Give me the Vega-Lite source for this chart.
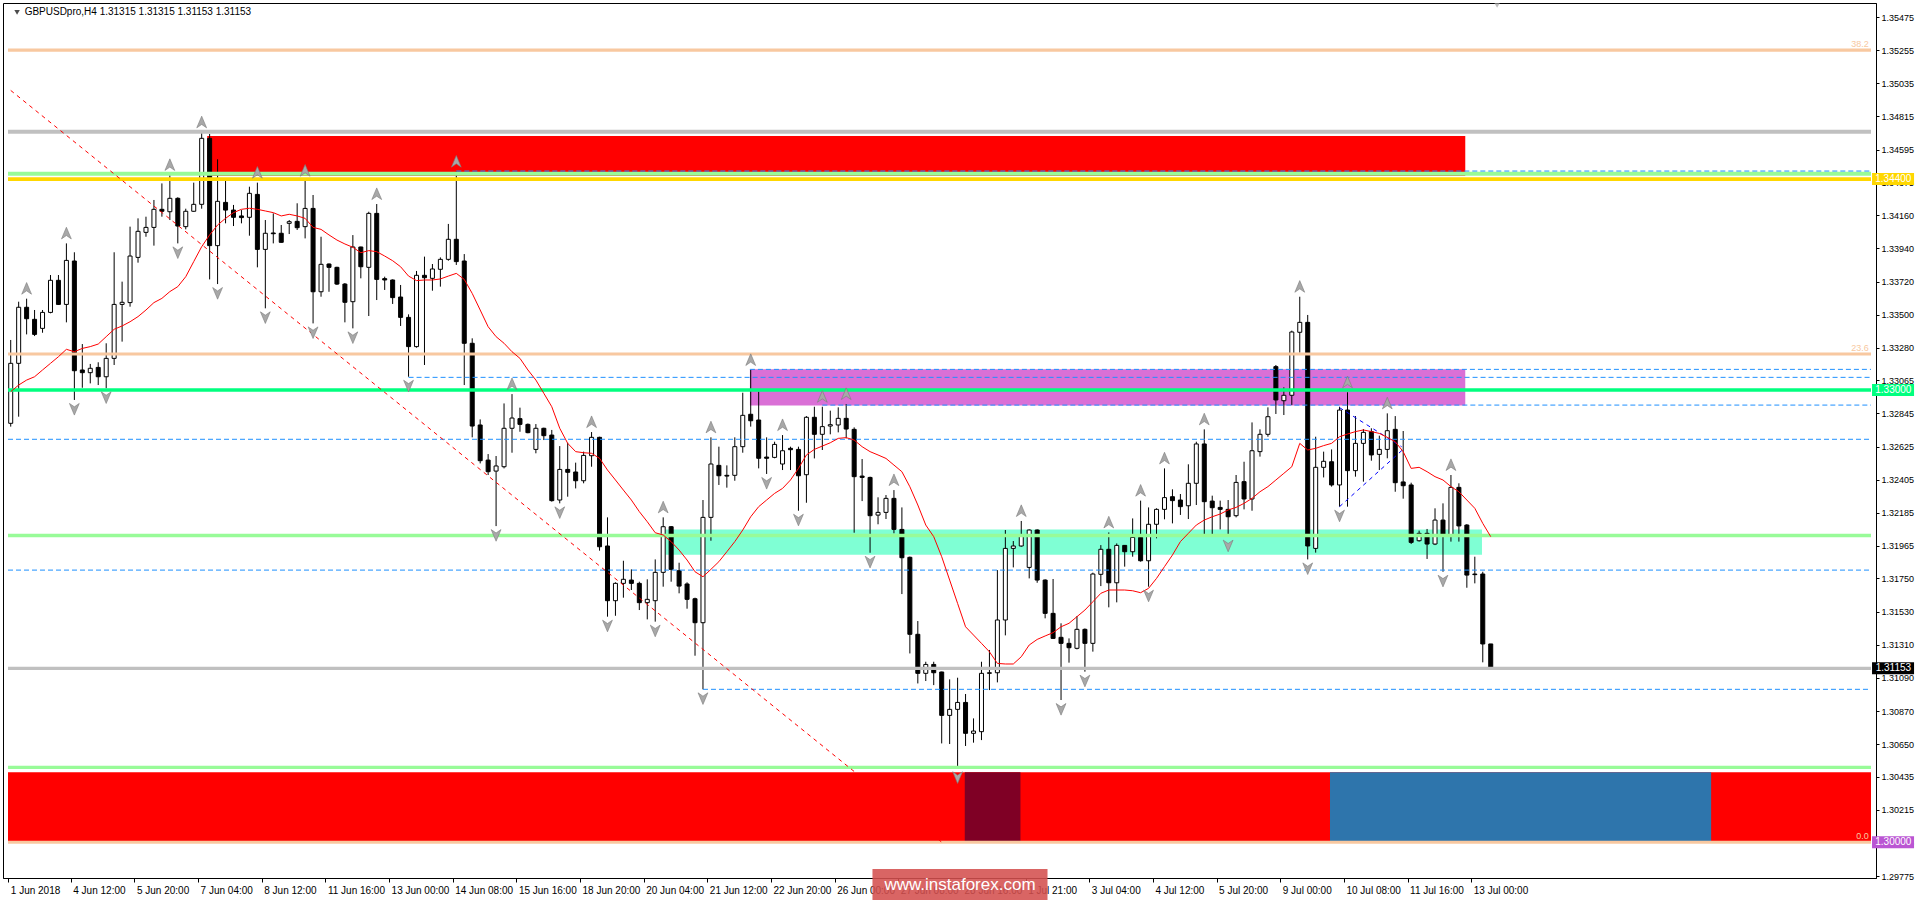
{
"$schema":"https://vega.github.io/schema/vega-lite/v6.json",
"width":1873,"height":875,
"autosize":{"type":"none"},
"padding":{"left":3,"top":3,"right":44,"bottom":24},
"background":"white",
"config":{"view":{"stroke":"#000000","strokeWidth":1},"axis":{"title":null,"grid":false,"labelOverlap":false}},
"resolve":{"scale":{"color":"independent","strokeWidth":"independent","fill":"independent","stroke":"independent"}},
"datasets":{
"c":[
{"i":0,"o":1.32779,"h":1.33332,"l":1.32757,"c":1.33177,"m":1.32989},
{"i":1,"o":1.33177,"h":1.33586,"l":1.32823,"c":1.33549,"m":1.33033},
{"i":2,"o":1.33549,"h":1.33606,"l":1.33369,"c":1.33473,"m":1.33066,"f":"u"},
{"i":3,"o":1.33469,"h":1.33531,"l":1.33358,"c":1.33369,"m":1.33088},
{"i":4,"o":1.33409,"h":1.33531,"l":1.33380,"c":1.33515,"m":1.33133},
{"i":5,"o":1.33515,"h":1.33763,"l":1.33509,"c":1.33728,"m":1.33177},
{"i":6,"o":1.33728,"h":1.33763,"l":1.33564,"c":1.33568,"m":1.33221},
{"i":7,"o":1.33568,"h":1.33973,"l":1.33449,"c":1.33860,"m":1.33270,"f":"u"},
{"i":8,"o":1.33856,"h":1.33914,"l":1.32934,"c":1.33128,"m":1.33254,"f":"d"},
{"i":9,"o":1.33133,"h":1.33305,"l":1.33015,"c":1.33115,"m":1.33276},
{"i":10,"o":1.33115,"h":1.33173,"l":1.33044,"c":1.33144,"m":1.33288},
{"i":11,"o":1.33150,"h":1.33184,"l":1.33033,"c":1.33088,"m":1.33305},
{"i":12,"o":1.33088,"h":1.33310,"l":1.33011,"c":1.33210,"m":1.33354,"f":"d"},
{"i":13,"o":1.33210,"h":1.33914,"l":1.33166,"c":1.33568,"m":1.33403},
{"i":14,"o":1.33568,"h":1.33719,"l":1.33321,"c":1.33582,"m":1.33425},
{"i":15,"o":1.33580,"h":1.34084,"l":1.33553,"c":1.33889,"m":1.33453},
{"i":16,"o":1.33880,"h":1.34139,"l":1.33845,"c":1.34053,"m":1.33487},
{"i":17,"o":1.34046,"h":1.34150,"l":1.34017,"c":1.34079,"m":1.33531},
{"i":18,"o":1.34079,"h":1.34261,"l":1.33958,"c":1.34199,"m":1.33580},
{"i":19,"o":1.34199,"h":1.34371,"l":1.34150,"c":1.34186,"m":1.33608},
{"i":20,"o":1.34183,"h":1.34427,"l":1.34128,"c":1.34272,"m":1.33653,"f":"u"},
{"i":21,"o":1.34272,"h":1.34279,"l":1.33973,"c":1.34088,"m":1.33686,"f":"d"},
{"i":22,"o":1.34084,"h":1.34203,"l":1.34066,"c":1.34186,"m":1.33752},
{"i":23,"o":1.34186,"h":1.34376,"l":1.34183,"c":1.34232,"m":1.33852},
{"i":24,"o":1.34232,"h":1.34710,"l":1.34203,"c":1.34670,"m":1.33951,"f":"u"},
{"i":25,"o":1.34670,"h":1.34699,"l":1.33734,"c":1.33958,"m":1.34029},
{"i":26,"o":1.33958,"h":1.34531,"l":1.33703,"c":1.34252,"m":1.34095,"f":"d"},
{"i":27,"o":1.34245,"h":1.34394,"l":1.34106,"c":1.34194,"m":1.34139},
{"i":28,"o":1.34194,"h":1.34228,"l":1.34088,"c":1.34146,"m":1.34177},
{"i":29,"o":1.34155,"h":1.34194,"l":1.34106,"c":1.34144,"m":1.34199},
{"i":30,"o":1.34146,"h":1.34349,"l":1.34024,"c":1.34305,"m":1.34206},
{"i":31,"o":1.34298,"h":1.34376,"l":1.33814,"c":1.33933,"m":1.34199,"f":"u"},
{"i":32,"o":1.33933,"h":1.34128,"l":1.33542,"c":1.34040,"m":1.34188,"f":"d"},
{"i":33,"o":1.34042,"h":1.34172,"l":1.33973,"c":1.34037,"m":1.34177},
{"i":34,"o":1.34040,"h":1.34095,"l":1.33978,"c":1.33980,"m":1.34155},
{"i":35,"o":1.34106,"h":1.34128,"l":1.34035,"c":1.34117,"m":1.34166},
{"i":36,"o":1.34119,"h":1.34239,"l":1.34062,"c":1.34077,"m":1.34155},
{"i":37,"o":1.34084,"h":1.34389,"l":1.34006,"c":1.34205,"m":1.34139,"f":"u"},
{"i":38,"o":1.34205,"h":1.34294,"l":1.33442,"c":1.33652,"m":1.34079,"f":"d"},
{"i":39,"o":1.33652,"h":1.34017,"l":1.33619,"c":1.33834,"m":1.34066},
{"i":40,"o":1.33836,"h":1.33840,"l":1.33652,"c":1.33814,"m":1.34029},
{"i":41,"o":1.33814,"h":1.33818,"l":1.33697,"c":1.33703,"m":1.33995},
{"i":42,"o":1.33703,"h":1.33710,"l":1.33449,"c":1.33582,"m":1.33969},
{"i":43,"o":1.33586,"h":1.34028,"l":1.33409,"c":1.33949,"m":1.33947,"f":"d"},
{"i":44,"o":1.33949,"h":1.33951,"l":1.33741,"c":1.33818,"m":1.33911},
{"i":45,"o":1.33814,"h":1.34183,"l":1.33491,"c":1.34172,"m":1.33925},
{"i":46,"o":1.34172,"h":1.34234,"l":1.33597,"c":1.33734,"m":1.33918,"f":"u"},
{"i":47,"o":1.33739,"h":1.33752,"l":1.33664,"c":1.33730,"m":1.33889},
{"i":48,"o":1.33730,"h":1.33734,"l":1.33571,"c":1.33613,"m":1.33858},
{"i":49,"o":1.33617,"h":1.33697,"l":1.33425,"c":1.33482,"m":1.33818},
{"i":50,"o":1.33482,"h":1.33502,"l":1.33088,"c":1.33288,"m":1.33756,"f":"d"},
{"i":51,"o":1.33288,"h":1.33790,"l":1.33281,"c":1.33761,"m":1.33726},
{"i":52,"o":1.33761,"h":1.33885,"l":1.33166,"c":1.33745,"m":1.33730},
{"i":53,"o":1.33741,"h":1.33836,"l":1.33659,"c":1.33803,"m":1.33730},
{"i":54,"o":1.33801,"h":1.33880,"l":1.33686,"c":1.33867,"m":1.33737},
{"i":55,"o":1.33867,"h":1.34102,"l":1.33858,"c":1.34000,"m":1.33756},
{"i":56,"o":1.34000,"h":1.34449,"l":1.33830,"c":1.33852,"m":1.33774,"f":"u"},
{"i":57,"o":1.33856,"h":1.33902,"l":1.33033,"c":1.33310,"m":1.33734},
{"i":58,"o":1.33310,"h":1.33343,"l":1.32686,"c":1.32761,"m":1.33641},
{"i":59,"o":1.32768,"h":1.32805,"l":1.32513,"c":1.32531,"m":1.33531},
{"i":60,"o":1.32535,"h":1.32575,"l":1.32436,"c":1.32458,"m":1.33420},
{"i":61,"o":1.32462,"h":1.32562,"l":1.32097,"c":1.32496,"m":1.33354,"f":"d"},
{"i":62,"o":1.32491,"h":1.32911,"l":1.32480,"c":1.32746,"m":1.33310},
{"i":63,"o":1.32746,"h":1.32973,"l":1.32584,"c":1.32814,"m":1.33254,"f":"u"},
{"i":64,"o":1.32810,"h":1.32883,"l":1.32723,"c":1.32772,"m":1.33210},
{"i":65,"o":1.32772,"h":1.32778,"l":1.32713,"c":1.32717,"m":1.33133},
{"i":66,"o":1.32606,"h":1.32774,"l":1.32580,"c":1.32746,"m":1.33066},
{"i":67,"o":1.32746,"h":1.32750,"l":1.32668,"c":1.32697,"m":1.32978},
{"i":68,"o":1.32701,"h":1.32735,"l":1.32259,"c":1.32266,"m":1.32889},
{"i":69,"o":1.32270,"h":1.32628,"l":1.32248,"c":1.32473,"m":1.32746,"f":"d"},
{"i":70,"o":1.32473,"h":1.32650,"l":1.32292,"c":1.32454,"m":1.32646},
{"i":71,"o":1.32456,"h":1.32518,"l":1.32347,"c":1.32398,"m":1.32591},
{"i":72,"o":1.32398,"h":1.32591,"l":1.32381,"c":1.32566,"m":1.32584},
{"i":73,"o":1.32564,"h":1.32721,"l":1.32491,"c":1.32686,"m":1.32580,"f":"u"},
{"i":74,"o":1.32686,"h":1.32690,"l":1.31934,"c":1.31960,"m":1.32547},
{"i":75,"o":1.31965,"h":1.32155,"l":1.31496,"c":1.31602,"m":1.32469,"f":"d"},
{"i":76,"o":1.31602,"h":1.31724,"l":1.31502,"c":1.31717,"m":1.32403},
{"i":77,"o":1.31717,"h":1.31867,"l":1.31622,"c":1.31744,"m":1.32336},
{"i":78,"o":1.31739,"h":1.31810,"l":1.31673,"c":1.31717,"m":1.32270},
{"i":79,"o":1.31717,"h":1.31728,"l":1.31540,"c":1.31589,"m":1.32193},
{"i":80,"o":1.31589,"h":1.31744,"l":1.31478,"c":1.31611,"m":1.32126},
{"i":81,"o":1.31602,"h":1.31876,"l":1.31463,"c":1.31790,"m":1.32053,"f":"d"},
{"i":82,"o":1.31790,"h":1.32155,"l":1.31695,"c":1.32093,"m":1.32038,"f":"u"},
{"i":83,"o":1.32093,"h":1.32097,"l":1.31728,"c":1.31810,"m":1.31994},
{"i":84,"o":1.31801,"h":1.31854,"l":1.31651,"c":1.31699,"m":1.31938},
{"i":85,"o":1.31713,"h":1.31724,"l":1.31549,"c":1.31611,"m":1.31872},
{"i":86,"o":1.31615,"h":1.31622,"l":1.31237,"c":1.31456,"m":1.31794},
{"i":87,"o":1.31456,"h":1.32270,"l":1.31014,"c":1.32155,"m":1.31761,"f":"d"},
{"i":88,"o":1.32155,"h":1.32686,"l":1.32000,"c":1.32509,"m":1.31810,"f":"u"},
{"i":89,"o":1.32500,"h":1.32624,"l":1.32370,"c":1.32431,"m":1.31861},
{"i":90,"o":1.32434,"h":1.32500,"l":1.32352,"c":1.32429,"m":1.31927},
{"i":91,"o":1.32434,"h":1.32686,"l":1.32398,"c":1.32624,"m":1.31994},
{"i":92,"o":1.32624,"h":1.32982,"l":1.32584,"c":1.32832,"m":1.32071},
{"i":93,"o":1.32839,"h":1.33133,"l":1.32757,"c":1.32796,"m":1.32159,"f":"u"},
{"i":94,"o":1.32801,"h":1.32989,"l":1.32480,"c":1.32547,"m":1.32226},
{"i":95,"o":1.32555,"h":1.32686,"l":1.32443,"c":1.32547,"m":1.32270,"f":"d"},
{"i":96,"o":1.32553,"h":1.32657,"l":1.32547,"c":1.32639,"m":1.32314},
{"i":97,"o":1.32509,"h":1.32701,"l":1.32469,"c":1.32597,"m":1.32347,"f":"u"},
{"i":98,"o":1.32613,"h":1.32624,"l":1.32469,"c":1.32604,"m":1.32403},
{"i":99,"o":1.32606,"h":1.32624,"l":1.32199,"c":1.32431,"m":1.32480,"f":"d"},
{"i":100,"o":1.32438,"h":1.32827,"l":1.32252,"c":1.32819,"m":1.32569},
{"i":101,"o":1.32819,"h":1.32889,"l":1.32546,"c":1.32706,"m":1.32606},
{"i":102,"o":1.32706,"h":1.32889,"l":1.32602,"c":1.32757,"m":1.32628,"f":"u"},
{"i":103,"o":1.32761,"h":1.32863,"l":1.32706,"c":1.32770,"m":1.32650},
{"i":104,"o":1.32768,"h":1.32885,"l":1.32719,"c":1.32812,"m":1.32679},
{"i":105,"o":1.32812,"h":1.32907,"l":1.32679,"c":1.32741,"m":1.32684,"f":"u"},
{"i":106,"o":1.32739,"h":1.32752,"l":1.32053,"c":1.32425,"m":1.32668},
{"i":107,"o":1.32429,"h":1.32542,"l":1.32263,"c":1.32420,"m":1.32624},
{"i":108,"o":1.32420,"h":1.32425,"l":1.31920,"c":1.32166,"m":1.32591,"f":"d"},
{"i":109,"o":1.32170,"h":1.32288,"l":1.32109,"c":1.32188,"m":1.32569},
{"i":110,"o":1.32188,"h":1.32303,"l":1.32144,"c":1.32281,"m":1.32546},
{"i":111,"o":1.32281,"h":1.32336,"l":1.32049,"c":1.32075,"m":1.32502,"f":"u"},
{"i":112,"o":1.32075,"h":1.32221,"l":1.31646,"c":1.31887,"m":1.32458},
{"i":113,"o":1.31890,"h":1.31895,"l":1.31252,"c":1.31379,"m":1.32358},
{"i":114,"o":1.31379,"h":1.31467,"l":1.31053,"c":1.31120,"m":1.32237},
{"i":115,"o":1.31120,"h":1.31197,"l":1.31069,"c":1.31179,"m":1.32104},
{"i":116,"o":1.31179,"h":1.31197,"l":1.31042,"c":1.31124,"m":1.32027},
{"i":117,"o":1.31129,"h":1.31131,"l":1.30655,"c":1.30841,"m":1.31894},
{"i":118,"o":1.30841,"h":1.31080,"l":1.30651,"c":1.30881,"m":1.31739},
{"i":119,"o":1.30881,"h":1.31091,"l":1.30490,"c":1.30927,"m":1.31584,"f":"d"},
{"i":120,"o":1.30927,"h":1.30983,"l":1.30638,"c":1.30722,"m":1.31429},
{"i":121,"o":1.30722,"h":1.30821,"l":1.30660,"c":1.30737,"m":1.31374},
{"i":122,"o":1.30733,"h":1.31197,"l":1.30677,"c":1.31120,"m":1.31319},
{"i":123,"o":1.31120,"h":1.31275,"l":1.31009,"c":1.31124,"m":1.31263},
{"i":124,"o":1.31124,"h":1.31805,"l":1.31060,"c":1.31474,"m":1.31186},
{"i":125,"o":1.31474,"h":1.32071,"l":1.31372,"c":1.31949,"m":1.31182},
{"i":126,"o":1.31949,"h":1.31998,"l":1.31823,"c":1.31965,"m":1.31182},
{"i":127,"o":1.31965,"h":1.32131,"l":1.31960,"c":1.32038,"m":1.31230,"f":"u"},
{"i":128,"o":1.31823,"h":1.32075,"l":1.31750,"c":1.32071,"m":1.31308},
{"i":129,"o":1.32071,"h":1.32075,"l":1.31721,"c":1.31739,"m":1.31345},
{"i":130,"o":1.31739,"h":1.31744,"l":1.31485,"c":1.31518,"m":1.31368},
{"i":131,"o":1.31518,"h":1.31746,"l":1.31348,"c":1.31352,"m":1.31390},
{"i":132,"o":1.31359,"h":1.31452,"l":1.30943,"c":1.31319,"m":1.31429,"f":"d"},
{"i":133,"o":1.31319,"h":1.31352,"l":1.31191,"c":1.31290,"m":1.31452},
{"i":134,"o":1.31286,"h":1.31500,"l":1.31279,"c":1.31412,"m":1.31496},
{"i":135,"o":1.31412,"h":1.31418,"l":1.31131,"c":1.31319,"m":1.31540,"f":"d"},
{"i":136,"o":1.31319,"h":1.31788,"l":1.31264,"c":1.31779,"m":1.31595},
{"i":137,"o":1.31777,"h":1.31971,"l":1.31699,"c":1.31943,"m":1.31651},
{"i":138,"o":1.31943,"h":1.32055,"l":1.31558,"c":1.31721,"m":1.31673,"f":"u"},
{"i":139,"o":1.31721,"h":1.31982,"l":1.31591,"c":1.31969,"m":1.31673},
{"i":140,"o":1.31969,"h":1.31971,"l":1.31828,"c":1.31927,"m":1.31673},
{"i":141,"o":1.31927,"h":1.32148,"l":1.31894,"c":1.32022,"m":1.31668},
{"i":142,"o":1.32022,"h":1.32266,"l":1.31861,"c":1.31867,"m":1.31655,"f":"u"},
{"i":143,"o":1.31867,"h":1.32221,"l":1.31695,"c":1.32109,"m":1.31684,"f":"d"},
{"i":144,"o":1.32109,"h":1.32215,"l":1.32016,"c":1.32208,"m":1.31750},
{"i":145,"o":1.32208,"h":1.32480,"l":1.32142,"c":1.32286,"m":1.31828,"f":"u"},
{"i":146,"o":1.32292,"h":1.32341,"l":1.32115,"c":1.32266,"m":1.31905},
{"i":147,"o":1.32270,"h":1.32310,"l":1.32171,"c":1.32226,"m":1.31994},
{"i":148,"o":1.32232,"h":1.32507,"l":1.32144,"c":1.32381,"m":1.32049},
{"i":149,"o":1.32381,"h":1.32657,"l":1.32237,"c":1.32642,"m":1.32104},
{"i":150,"o":1.32642,"h":1.32739,"l":1.32031,"c":1.32259,"m":1.32137,"f":"u"},
{"i":151,"o":1.32263,"h":1.32299,"l":1.32031,"c":1.32219,"m":1.32159},
{"i":152,"o":1.32221,"h":1.32266,"l":1.32075,"c":1.32208,"m":1.32177},
{"i":153,"o":1.32208,"h":1.32270,"l":1.32027,"c":1.32159,"m":1.32204,"f":"d"},
{"i":154,"o":1.32166,"h":1.32436,"l":1.32155,"c":1.32387,"m":1.32221},
{"i":155,"o":1.32392,"h":1.32524,"l":1.32208,"c":1.32277,"m":1.32248},
{"i":156,"o":1.32277,"h":1.32785,"l":1.32199,"c":1.32597,"m":1.32281},
{"i":157,"o":1.32591,"h":1.32739,"l":1.32558,"c":1.32706,"m":1.32325},
{"i":158,"o":1.32706,"h":1.32885,"l":1.32690,"c":1.32823,"m":1.32359},
{"i":159,"o":1.33155,"h":1.33166,"l":1.32841,"c":1.32934,"m":1.32403},
{"i":160,"o":1.32929,"h":1.33018,"l":1.32834,"c":1.32965,"m":1.32447},
{"i":161,"o":1.32965,"h":1.33394,"l":1.32900,"c":1.33385,"m":1.32491},
{"i":162,"o":1.33383,"h":1.33619,"l":1.33248,"c":1.33449,"m":1.32646,"f":"u"},
{"i":163,"o":1.33449,"h":1.33498,"l":1.31876,"c":1.31965,"m":1.32602,"f":"d"},
{"i":164,"o":1.31949,"h":1.32690,"l":1.31921,"c":1.32487,"m":1.32613},
{"i":165,"o":1.32487,"h":1.32591,"l":1.32420,"c":1.32527,"m":1.32631},
{"i":166,"o":1.32524,"h":1.32606,"l":1.32359,"c":1.32370,"m":1.32646},
{"i":167,"o":1.32370,"h":1.32889,"l":1.32226,"c":1.32867,"m":1.32690,"f":"d"},
{"i":168,"o":1.32867,"h":1.32985,"l":1.32226,"c":1.32465,"m":1.32708,"f":"u"},
{"i":169,"o":1.32465,"h":1.32827,"l":1.32425,"c":1.32646,"m":1.32724},
{"i":170,"o":1.32646,"h":1.32741,"l":1.32392,"c":1.32719,"m":1.32735},
{"i":171,"o":1.32724,"h":1.32746,"l":1.32531,"c":1.32569,"m":1.32724},
{"i":172,"o":1.32573,"h":1.32697,"l":1.32469,"c":1.32606,"m":1.32712},
{"i":173,"o":1.32606,"h":1.32845,"l":1.32547,"c":1.32730,"m":1.32686,"f":"u"},
{"i":174,"o":1.32739,"h":1.32827,"l":1.32325,"c":1.32385,"m":1.32657},
{"i":175,"o":1.32390,"h":1.32728,"l":1.32279,"c":1.32365,"m":1.32591},
{"i":176,"o":1.32370,"h":1.32385,"l":1.31978,"c":1.31989,"m":1.32480},
{"i":177,"o":1.32000,"h":1.32067,"l":1.31994,"c":1.32049,"m":1.32487},
{"i":178,"o":1.32049,"h":1.32078,"l":1.31879,"c":1.31978,"m":1.32458},
{"i":179,"o":1.31978,"h":1.32215,"l":1.31971,"c":1.32137,"m":1.32425},
{"i":180,"o":1.32137,"h":1.32248,"l":1.31794,"c":1.32033,"m":1.32403,"f":"d"},
{"i":181,"o":1.32033,"h":1.32436,"l":1.31994,"c":1.32354,"m":1.32359,"f":"u"},
{"i":182,"o":1.32354,"h":1.32381,"l":1.31994,"c":1.32098,"m":1.32325},
{"i":183,"o":1.32104,"h":1.32110,"l":1.31688,"c":1.31772,"m":1.32270},
{"i":184,"o":1.31779,"h":1.31894,"l":1.31717,"c":1.31775,"m":1.32215},
{"i":185,"o":1.31779,"h":1.31794,"l":1.31193,"c":1.31315,"m":1.32115},
{"i":186,"o":1.31315,"h":1.31315,"l":1.31153,"c":1.31153,"m":1.32027}
],
"zones":[
{"z":"redTop","a":24.7,"b":182.8,"p1":1.34686,"p2":1.34420},
{"z":"magenta","a":92.9,"b":182.8,"p1":1.33137,"p2":1.32897},
{"z":"aqua","a":82.3,"b":184.9,"p1":1.32075,"p2":1.31907},
{"z":"redBottom","a":-0.34,"b":233.79,"p1":1.30463,"p2":1.30000},
{"z":"maroon","a":119.9,"b":126.9,"p1":1.30463,"p2":1.30000},
{"z":"blue","a":165.8,"b":213.7,"p1":1.30463,"p2":1.30000}
],
"solid":[
{"n":"gray","p":1.34713,"a":-0.34,"b":233.79},
{"n":"lg1","p":1.34435,"a":-0.34,"b":233.79},
{"n":"gold","p":1.34400,"a":-0.34,"b":233.79},
{"n":"sg","p":1.33000,"a":-0.34,"b":233.79},
{"n":"lg2","p":1.32035,"a":-0.34,"b":233.79},
{"n":"lg3","p":1.30496,"a":-0.34,"b":233.79},
{"n":"cur","p":1.31153,"a":-0.34,"b":233.79},
{"n":"fib382","p":1.35255,"a":-0.34,"b":233.79},
{"n":"fib236","p":1.33239,"a":-0.34,"b":233.79},
{"n":"fib0","p":1.30000,"a":-0.34,"b":233.79}
],
"dashed":[
{"p":1.34453,"a":56,"b":233.79},
{"p":1.33137,"a":92.9,"b":233.79},
{"p":1.33084,"a":50,"b":233.79},
{"p":1.32900,"a":102,"b":233.79},
{"p":1.32673,"a":-0.34,"b":233.79},
{"p":1.31805,"a":-0.34,"b":233.79},
{"p":1.31014,"a":87,"b":233.79}
],
"trend":[
{"n":"red","a":0,"pa":1.34988,"b":117,"pb":1.30000},
{"n":"blue","a":167.0,"pa":1.32226,"b":174.9,"pb":1.32602},
{"n":"blue","a":167.0,"pa":1.32883,"b":174.8,"pb":1.32624}
],
"boxes":[
{"n":"gold","p":1.34400},
{"n":"sg","p":1.33000},
{"n":"cur","p":1.31153},
{"n":"vi","p":1.30000}
],
"fib":[
{"t":"38.2","p":1.35255},
{"t":"23.6","p":1.33239},
{"t":"0.0","p":1.30000}
]
},
"layer":[
{
"data":{"name":"zones"},
"mark":{"type":"rect"},
"encoding":{
"x":{"field":"a","type":"quantitative","scale":{"domain":[-0.34,233.79],"nice":false,"zero":false},
"axis":{"orient":"bottom","values":[-0.3,7.55,15.55,23.55,31.55,39.55,47.55,55.55,63.55,71.55,79.55,87.55,95.55,103.55,111.55,119.55,127.55,135.55,143.55,151.55,159.55,167.55,175.55,183.55],"tickCount":60,
"labelExpr":"['1 Jun 2018','4 Jun 12:00','5 Jun 20:00','7 Jun 04:00','8 Jun 12:00','11 Jun 16:00','13 Jun 00:00','14 Jun 08:00','15 Jun 16:00','18 Jun 20:00','20 Jun 04:00','21 Jun 12:00','22 Jun 20:00','26 Jun 00:00','27 Jun 08:00','28 Jun 16:00','1 Jul 21:00','3 Jul 04:00','4 Jul 12:00','5 Jul 20:00','9 Jul 00:00','10 Jul 08:00','11 Jul 16:00','13 Jul 00:00'][round((datum.value+0.45)/8)]",
"labelAlign":"left","labelBaseline":"top","labelOffset":2,"labelPadding":3,"labelFont":"Liberation Sans Narrow, Liberation Sans","labelFontSize":10,"labelColor":"#000000","tickColor":"#000000","tickSize":4,"domainColor":"#000000","grid":false,"title":null,"labelOverlap":false,"labelFlush":false,"labelBound":false}},
"x2":{"field":"b"},
"y":{"field":"p1","type":"quantitative","scale":{"domain":[1.29762,1.35568],"nice":false,"zero":false},
"axis":{"orient":"right","values":[1.35475,1.35255,1.35035,1.34815,1.34595,1.34375,1.3416,1.3394,1.3372,1.335,1.3328,1.33065,1.32845,1.32625,1.32405,1.32185,1.31965,1.3175,1.3153,1.3131,1.3109,1.3087,1.3065,1.30435,1.30215,1.29995,1.29775],"tickCount":60,
"format":".5f","labelFont":"Liberation Sans","labelFontSize":9,"labelColor":"#000000","tickColor":"#000000","tickSize":3,"labelPadding":2,"domainColor":"#000000","grid":false,"title":null,"labelOverlap":false,"labelBound":false,"labelFlush":false}},
"y2":{"field":"p2"},
"color":{"field":"z","type":"nominal","scale":{"domain":["redTop","magenta","aqua","redBottom","maroon","blue"],"range":["#FF0000","#DA70D6","#7FFFD4","#FF0000","#7F0025","#2E75AC"]},"legend":null}
}
},
{
"data":{"name":"c"},
"mark":{"type":"rule","color":"#000000","strokeWidth":1},
"encoding":{
"x":{"field":"i","type":"quantitative"},
"y":{"field":"l","type":"quantitative"},
"y2":{"field":"h"}
}
},
{
"data":{"name":"c"},
"mark":{"type":"bar","width":4,"stroke":"#000000","strokeWidth":1},
"encoding":{
"x":{"field":"i","type":"quantitative"},
"y":{"field":"o","type":"quantitative"},
"y2":{"field":"c"},
"fill":{"condition":{"test":"datum.c >= datum.o","value":"#FFFFFF"},"value":"#000000"}
}
},
{
"data":{"name":"solid"},
"mark":{"type":"rule"},
"encoding":{
"x":{"field":"a","type":"quantitative"},
"x2":{"field":"b"},
"y":{"field":"p","type":"quantitative"},
"color":{"field":"n","type":"nominal","scale":{"domain":["gray","lg1","gold","sg","lg2","lg3","cur","fib382","fib236","fib0"],"range":["#C0C0C0","#98FB98","#FFD700","#00FF7F","#98FB98","#98FB98","#C0C0C0","#F8C8A0","#F8C8A0","#F8C8A0"]},"legend":null},
"strokeWidth":{"field":"n","type":"nominal","scale":{"domain":["gray","lg1","gold","sg","lg2","lg3","cur","fib382","fib236","fib0"],"range":[4,3,4,4,4,6,1,2,2,2]},"legend":null}
}
},
{
"data":{"name":"dashed"},
"mark":{"type":"rule","color":"#1E90FF","strokeWidth":1,"strokeDash":[5,3]},
"encoding":{
"x":{"field":"a","type":"quantitative"},
"x2":{"field":"b"},
"y":{"field":"p","type":"quantitative"}
}
},
{
"data":{"name":"trend"},
"mark":{"type":"rule","strokeWidth":1,"strokeDash":[4,4]},
"encoding":{
"x":{"field":"a","type":"quantitative"},
"x2":{"field":"b"},
"y":{"field":"pa","type":"quantitative"},
"y2":{"field":"pb"},
"color":{"field":"n","type":"nominal","scale":{"domain":["red","blue"],"range":["#FF0000","#0000FF"]},"legend":null}
}
},
{
"data":{"name":"c"},
"mark":{"type":"line","color":"#FF0000","strokeWidth":1},
"encoding":{
"x":{"field":"i","type":"quantitative"},
"y":{"field":"m","type":"quantitative"}
}
},
{
"data":{"name":"c"},
"transform":[{"filter":"datum.f == 'u'"}],
"mark":{"type":"point","shape":"M0,-1L0.8,0.9L0,0.35L-0.8,0.9Z","filled":true,"size":150,"color":"#A8A8A8","stroke":"#7A7A7A","strokeWidth":0.6,"opacity":1,"yOffset":-10},
"encoding":{
"x":{"field":"i","type":"quantitative"},
"y":{"field":"h","type":"quantitative"}
}
},
{
"data":{"name":"c"},
"transform":[{"filter":"datum.f == 'd'"}],
"mark":{"type":"point","shape":"M0,1L0.8,-0.9L0,-0.35L-0.8,-0.9Z","filled":true,"size":150,"color":"#A8A8A8","stroke":"#7A7A7A","strokeWidth":0.6,"opacity":1,"yOffset":9},
"encoding":{
"x":{"field":"i","type":"quantitative"},
"y":{"field":"l","type":"quantitative"}
}
},
{
"data":{"name":"fib"},
"mark":{"type":"text","align":"right","baseline":"bottom","dy":-1,"font":"Liberation Sans","fontSize":9,"color":"#F8C8A0"},
"encoding":{
"x":{"datum":233.5,"type":"quantitative"},
"y":{"field":"p","type":"quantitative"},
"text":{"field":"t"}
}
},
{
"data":{"name":"boxes"},
"mark":{"type":"rule","strokeWidth":12},
"encoding":{
"x":{"datum":233.92,"type":"quantitative"},
"x2":{"datum":239.2},
"y":{"field":"p","type":"quantitative"},
"color":{"field":"n","type":"nominal","scale":{"domain":["gold","sg","cur","vi"],"range":["#FFD700","#00FF7F","#000000","#BA55D3"]},"legend":null}
}
},
{
"data":{"name":"boxes"},
"mark":{"type":"text","align":"center","baseline":"middle","font":"Liberation Sans","fontSize":10,"color":"#FFFFFF"},
"encoding":{
"x":{"datum":236.6,"type":"quantitative"},
"y":{"field":"p","type":"quantitative"},
"text":{"field":"p","type":"quantitative","format":".5f"}
}
},
{
"data":{"values":[{"t":"GBPUSDpro,H4  1.31315 1.31315 1.31153 1.31153"}]},
"mark":{"type":"text","align":"left","baseline":"middle","font":"Liberation Sans","fontSize":10,"color":"#000000"},
"encoding":{
"x":{"datum":1.75,"type":"quantitative"},
"y":{"datum":1.35505,"type":"quantitative"},
"text":{"field":"t"}
}
},
{
"data":{"values":[{"i":0.8,"p":1.35505,"s":"title"},{"i":186.8,"p":1.35552,"s":"shift"}]},
"mark":{"type":"point","shape":"triangle-down","filled":true,"size":30,"color":"#000000"},
"encoding":{
"x":{"field":"i","type":"quantitative"},
"y":{"field":"p","type":"quantitative"},
"fill":{"field":"s","type":"nominal","scale":{"domain":["title","shift"],"range":["#000000","#A0A0A0"]},"legend":null}
}
},
{
"data":{"values":[{"a":108.3,"b":130.3,"p1":1.29821,"p2":1.29616}]},
"mark":{"type":"rect","color":"#D4504E","opacity":0.88},
"encoding":{
"x":{"field":"a","type":"quantitative"},
"x2":{"field":"b"},
"y":{"field":"p1","type":"quantitative"},
"y2":{"field":"p2"}
}
},
{
"data":{"values":[{"t":"www.instaforex.com","i":119.3,"p":1.29716}]},
"mark":{"type":"text","align":"center","baseline":"middle","font":"Liberation Sans","fontSize":17,"color":"#FFFFFF"},
"encoding":{
"x":{"field":"i","type":"quantitative"},
"y":{"field":"p","type":"quantitative"},
"text":{"field":"t"}
}
}
]
}
